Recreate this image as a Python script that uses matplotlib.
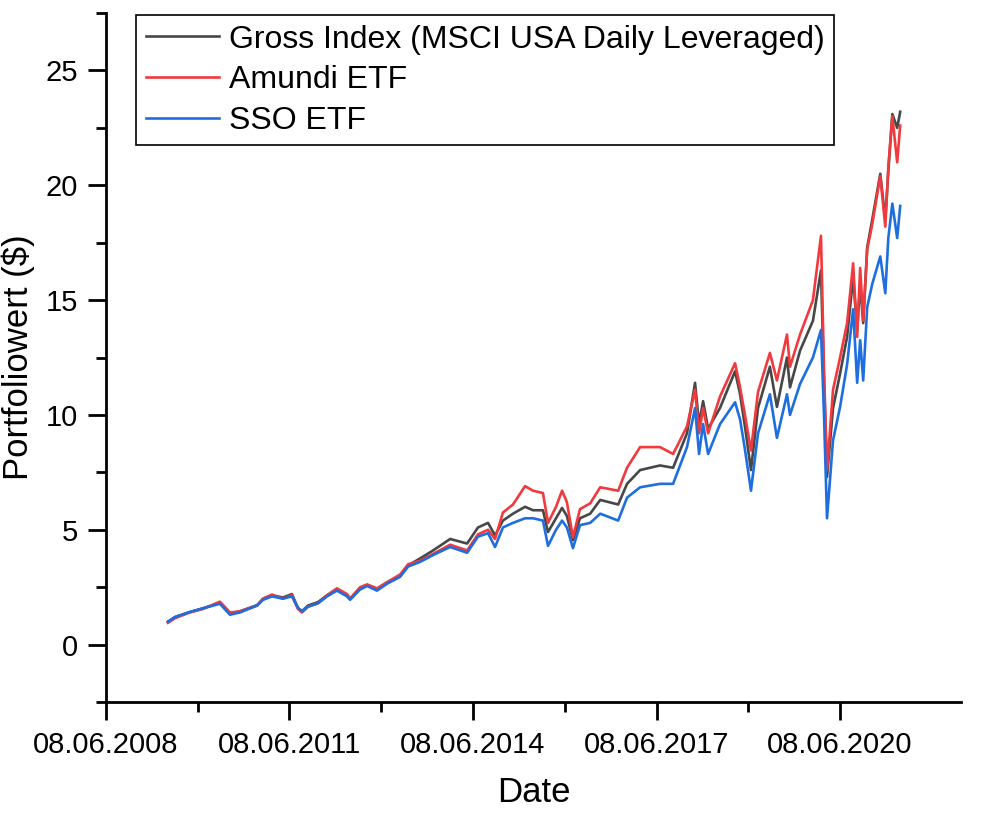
import numpy as np
import pandas as pd
import matplotlib
matplotlib.use('Agg')
import matplotlib.pyplot as plt
import matplotlib.dates as mdates
from matplotlib.ticker import MultipleLocator, FixedLocator

plt.rcParams['font.family'] = ['Liberation Sans', 'DejaVu Sans']

# Werte
dates = ['2009-06-13', '2009-07-25', '2009-10-22', '2010-01-08', '2010-04-19', '2010-06-18',
         '2010-08-17', '2010-11-27', '2011-01-02', '2011-02-24', '2011-04-30', '2011-06-23',
         '2011-07-29', '2011-08-22', '2011-09-27', '2011-11-26', '2012-01-19', '2012-03-18',
         '2012-05-17', '2012-06-04', '2012-08-03', '2012-09-14', '2012-11-12', '2013-01-11',
         '2013-03-30', '2013-05-17', '2013-07-27', '2013-10-13', '2014-01-23', '2014-05-04',
         '2014-07-08', '2014-09-06', '2014-10-18', '2014-12-04', '2015-02-02', '2015-04-15',
         '2015-06-02', '2015-07-31', '2015-08-30', '2015-10-17', '2015-11-22', '2015-12-21',
         '2016-01-26', '2016-03-08', '2016-05-08', '2016-07-07', '2016-10-22', '2016-12-14',
         '2017-03-02', '2017-06-29', '2017-09-15', '2017-12-07', '2018-01-24', '2018-02-17',
         '2018-03-13', '2018-04-12', '2018-06-22', '2018-09-20', '2018-10-20', '2018-11-18',
         '2018-12-24', '2019-02-04', '2019-04-16', '2019-05-28', '2019-07-27', '2019-08-14',
         '2019-10-13', '2019-12-29', '2020-02-15', '2020-03-04', '2020-03-22', '2020-04-27',
         '2020-06-08', '2020-07-20', '2020-08-25', '2020-09-18', '2020-10-06', '2020-10-24',
         '2020-11-17', '2020-12-17', '2021-02-03', '2021-03-05', '2021-03-23', '2021-04-16',
         '2021-05-15', '2021-06-02']

gross = [1.0, 1.2, 1.42, 1.58, 1.82, 1.35,
         1.45, 1.72, 2.0, 2.15, 2.05, 2.2,
         1.6, 1.45, 1.7, 1.85, 2.15, 2.4,
         2.15, 2.0, 2.45, 2.6, 2.4, 2.7,
         3.0, 3.45, 3.75, 4.1, 4.6, 4.4,
         5.1, 5.3, 4.75, 5.4, 5.7, 6.0,
         5.85, 5.85, 4.9, 5.5, 5.95, 5.6,
         4.55, 5.5, 5.7, 6.3, 6.1, 7.0,
         7.6, 7.8, 7.7, 9.2, 11.4, 9.6,
         10.6, 9.4, 10.3, 11.9, 10.9, 9.5,
         7.6, 10.3, 12.1, 10.35, 12.5, 11.2,
         12.8, 14.1, 16.3, 11.5, 7.3, 10.3,
         11.8, 13.4, 16.0, 13.7, 15.7, 14.0,
         17.3, 18.5, 20.5, 18.5, 20.6, 23.1,
         22.5, 23.2]

amundi = [0.95, 1.15, 1.4, 1.55, 1.87, 1.4,
          1.45, 1.7, 2.0, 2.18, 2.0, 2.15,
          1.55, 1.4, 1.65, 1.8, 2.15, 2.45,
          2.2, 2.0, 2.5, 2.62, 2.45, 2.72,
          3.05, 3.5, 3.65, 3.95, 4.35, 4.1,
          4.8, 5.0, 4.6, 5.75, 6.1, 6.9,
          6.7, 6.6, 5.3, 6.0, 6.7, 6.2,
          4.67, 5.9, 6.15, 6.85, 6.7, 7.7,
          8.6, 8.6, 8.3, 9.5, 11.1, 9.2,
          10.3, 9.2, 10.8, 12.25, 11.2, 10.0,
          8.45, 11.0, 12.7, 11.5, 13.5, 12.1,
          13.5, 15.0, 17.8, 12.0, 7.6, 11.1,
          12.5, 14.0, 16.6, 13.4, 16.4, 14.1,
          17.2, 18.3, 20.4, 18.2, 20.8, 23.0,
          21.0, 22.6]

sso = [1.0, 1.2, 1.42, 1.58, 1.78, 1.3,
       1.4, 1.7, 1.95, 2.1, 2.0, 2.1,
       1.6, 1.45, 1.65, 1.8, 2.1, 2.35,
       2.1, 1.95, 2.4, 2.55, 2.35, 2.65,
       2.95, 3.4, 3.6, 3.9, 4.25, 4.0,
       4.7, 4.85, 4.25, 5.1, 5.3, 5.5,
       5.5, 5.4, 4.3, 5.0, 5.4, 5.1,
       4.2, 5.2, 5.3, 5.7, 5.4, 6.4,
       6.85, 7.0, 7.0, 8.6, 10.3, 8.3,
       9.6, 8.3, 9.6, 10.55, 9.8, 8.5,
       6.7, 9.2, 10.9, 9.0, 10.9, 10.0,
       11.35, 12.5, 13.7, 10.0, 5.5, 8.9,
       10.35, 12.2, 14.6, 11.4, 13.25, 11.5,
       14.7, 15.7, 16.9, 15.3, 17.7, 19.2,
       17.7, 19.1]

labels = ['Gross Index (MSCI USA Daily Leveraged)', 'Amundi ETF', 'SSO ETF']
colors = ['#474747', '#f03a3e', '#1f6ee0']

x = pd.to_datetime(dates)

fig = plt.figure(figsize=(10, 8.13), dpi=100)
ax = fig.add_axes([0.106, 0.1365, 0.855, 0.8475])

for vals, lab, col in zip([gross, amundi, sso], labels, colors):
    ax.plot(x, vals, color=col, lw=1.9, label=lab)

major_dates = pd.to_datetime(['2008-06-08', '2011-06-08', '2014-06-08', '2017-06-08', '2020-06-08'])
major = mdates.date2num(major_dates)
minor = (major[:-1] + major[1:]) / 2
ax.xaxis.set_major_locator(FixedLocator(major))
ax.xaxis.set_minor_locator(FixedLocator(minor))
ax.xaxis.set_major_formatter(mdates.DateFormatter('%d.%m.%Y'))
ax.set_xlim(major[0], mdates.date2num(pd.Timestamp('2022-05-31')))

ax.set_ylim(-2.5, 27.5)
ax.yaxis.set_major_locator(MultipleLocator(5))
ax.yaxis.set_minor_locator(MultipleLocator(2.5))

for s in ['top', 'right']:
    ax.spines[s].set_visible(False)
for s in ['left', 'bottom']:
    ax.spines[s].set_linewidth(2)

ax.tick_params(which='major', length=13, width=2, labelsize=21, direction='out')
ax.tick_params(which='minor', length=7, width=2, direction='out')
ax.tick_params(axis='x', which='major', pad=8)
ax.tick_params(axis='y', which='major', pad=7)

ax.set_xlabel('Date', fontsize=25, labelpad=12)
ax.set_ylabel('Portfoliowert ($)', fontsize=25, labelpad=8)

leg = ax.legend(loc='upper left', bbox_to_anchor=(0.035, 0.997), borderaxespad=0,
                fontsize=23, handlelength=2.3, handletextpad=0.3, labelspacing=0.33,
                borderpad=0.3, fancybox=False, framealpha=1, edgecolor='black')
leg.get_frame().set_linewidth(1.2)

fig.savefig('out.png', dpi=100)
